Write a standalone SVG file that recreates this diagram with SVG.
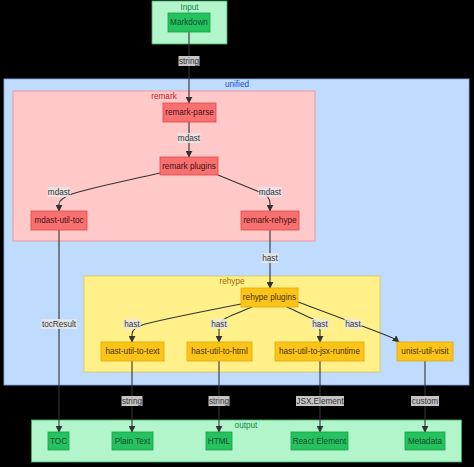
<svg xmlns="http://www.w3.org/2000/svg" width="474" height="467" viewBox="0 0 474 467">
<defs>
<marker id="arr" viewBox="0 0 10 10" refX="9" refY="5" markerWidth="7" markerHeight="7" orient="auto" markerUnits="userSpaceOnUse">
<path d="M0,0 L10,5 L0,10 z" fill="#333"/>
</marker>
<style>
text{font-family:"Liberation Sans",Arial,sans-serif;font-size:8.2px;text-anchor:middle;dominant-baseline:central}
.cg{fill:#b2f5cb;stroke:#3fb26a;stroke-width:0.8}
.cu{fill:#bfdbfe;stroke:#7fb0ee;stroke-width:0.8}
.cr{fill:#ffc9c9;stroke:#ee8b8b;stroke-width:0.8}
.cy{fill:#fff08a;stroke:#e2c44a;stroke-width:0.8}
.ng{fill:#26c25f;stroke:#16a04a;stroke-width:0.8}
.nr{fill:#f87171;stroke:#e04848;stroke-width:0.8}
.ny{fill:#fcc419;stroke:#e0a800;stroke-width:0.8}
.tg{fill:#0f4d2a}
.tr{fill:#4a1010}
.ty{fill:#4a3000}
.lg{fill:#17843f}
.lu{fill:#1d4ed8}
.lr{fill:#c02626}
.ly{fill:#a66a00}
.e{fill:none;stroke:#333;stroke-width:1.1;marker-end:url(#arr)}
.lb{fill:#e8e8e8;fill-opacity:0.85}
.lt{fill:#333}
</style>
</defs>
<rect x="0" y="0" width="474" height="467" fill="#000"/>

<g id="cluster-input">
<rect class="cg" x="152" y="1" width="75" height="43"/>
<text class="lg" x="189.5" y="7">Input</text>
</g>
<g id="cluster-unified">
<rect class="cu" x="4" y="79" width="465" height="306"/>
<text class="lu" x="237" y="84">unified</text>
</g>
<g id="cluster-remark">
<rect class="cr" x="13" y="91" width="302" height="150"/>
<text class="lr" x="164" y="96">remark</text>
</g>
<g id="cluster-rehype">
<rect class="cy" x="84" y="276" width="296" height="96"/>
<text class="ly" x="232" y="281">rehype</text>
</g>
<g id="cluster-output">
<rect class="cg" x="31.5" y="420" width="430" height="42"/>
<text class="lg" x="246" y="425">output</text>
</g>

<g id="connectors">
<path class="e" d="M189,32 L189,103"/>
<path class="e" d="M189,122 L189,157"/>
<path class="e" d="M160,173 C120,182 85,189 72,194 Q59,199 59,204 L59,211"/>
<path class="e" d="M218,175 C235,182 250,188 262,193 Q270,197 270,203 L270,211"/>
<path class="e" d="M270,230 L270,288"/>
<path class="e" d="M59,230 L59,432"/>
<path class="e" d="M241,304 C200,312 165,319 145,324 Q132,328 132,334 L132,342"/>
<path class="e" d="M252,307 C240,312 232,315 226,318 Q219,322 219,330 L219,342"/>
<path class="e" d="M287,307 C298,312 306,316 313,319 Q320,323 320,331 L320,342"/>
<path class="e" d="M298,302 C330,314 365,327 388,336 Q394,338 399,342"/>
<path class="e" d="M132,361 L132,432"/>
<path class="e" d="M219,361 L219,432"/>
<path class="e" d="M320,361 L320,432"/>
<path class="e" d="M425,361 L425,432"/>

<g id="edge-labels">
<rect class="lb" x="178.5" y="56" width="21" height="10"/><text class="lt" x="189" y="61">string</text>
<rect class="lb" x="177.5" y="133" width="23" height="10"/><text class="lt" x="189" y="138">mdast</text>
<rect class="lb" x="47.5" y="187" width="23" height="10"/><text class="lt" x="59" y="192">mdast</text>
<rect class="lb" x="258.5" y="187" width="23" height="10"/><text class="lt" x="270" y="192">mdast</text>
<rect class="lb" x="261.5" y="253" width="17" height="10"/><text class="lt" x="270" y="258">hast</text>
<rect class="lb" x="41" y="319" width="36" height="10"/><text class="lt" x="59" y="324">tocResult</text>
<rect class="lb" x="123.5" y="319" width="17" height="10"/><text class="lt" x="132" y="324">hast</text>
<rect class="lb" x="210.5" y="319" width="17" height="10"/><text class="lt" x="219" y="324">hast</text>
<rect class="lb" x="311.5" y="319" width="17" height="10"/><text class="lt" x="320" y="324">hast</text>
<rect class="lb" x="344.5" y="319" width="17" height="10"/><text class="lt" x="353" y="324">hast</text>
<rect class="lb" x="121.5" y="396" width="21" height="10"/><text class="lt" x="132" y="401">string</text>
<rect class="lb" x="208.5" y="396" width="21" height="10"/><text class="lt" x="219" y="401">string</text>
<rect class="lb" x="296" y="396" width="48" height="10"/><text class="lt" x="320" y="401">JSX.Element</text>
<rect class="lb" x="411" y="396" width="28" height="10"/><text class="lt" x="425" y="401">custom</text>
</g>
</g>

<g id="node-markdown"><rect class="ng" x="168" y="13" width="42" height="19"/><text class="tg" x="189" y="22.5">Markdown</text></g>
<g id="node-remark-parse"><rect class="nr" x="163" y="103" width="53" height="19"/><text class="tr" x="189.5" y="112.5">remark-parse</text></g>
<g id="node-remark-plugins"><rect class="nr" x="160" y="157" width="58" height="18"/><text class="tr" x="189" y="166">remark plugins</text></g>
<g id="node-mdast-util-toc"><rect class="nr" x="31" y="211" width="56" height="19"/><text class="tr" x="59" y="220.5">mdast-util-toc</text></g>
<g id="node-remark-rehype"><rect class="nr" x="241" y="211" width="58" height="19"/><text class="tr" x="270" y="220.5">remark-rehype</text></g>
<g id="node-rehype-plugins"><rect class="ny" x="241" y="288" width="57" height="19"/><text class="ty" x="269.5" y="297.5">rehype plugins</text></g>
<g id="node-hast-util-to-text"><rect class="ny" x="101" y="342" width="63" height="19"/><text class="ty" x="132.5" y="351.5">hast-util-to-text</text></g>
<g id="node-hast-util-to-html"><rect class="ny" x="187" y="342" width="65" height="19"/><text class="ty" x="219.5" y="351.5">hast-util-to-html</text></g>
<g id="node-hast-util-to-jsx-runtime"><rect class="ny" x="275" y="342" width="89" height="19"/><text class="ty" x="319.5" y="351.5">hast-util-to-jsx-runtime</text></g>
<g id="node-unist-util-visit"><rect class="ny" x="397" y="342" width="56" height="19"/><text class="ty" x="425" y="351.5">unist-util-visit</text></g>
<g id="node-toc"><rect class="ng" x="48" y="432" width="21" height="18"/><text class="tg" x="58.5" y="441">TOC</text></g>
<g id="node-plain-text"><rect class="ng" x="112" y="432" width="41" height="18"/><text class="tg" x="132.5" y="441">Plain Text</text></g>
<g id="node-html"><rect class="ng" x="206" y="432" width="26" height="18"/><text class="tg" x="219" y="441">HTML</text></g>
<g id="node-react-element"><rect class="ng" x="291" y="432" width="57" height="18"/><text class="tg" x="319.5" y="441">React Element</text></g>
<g id="node-metadata"><rect class="ng" x="405" y="432" width="40" height="18"/><text class="tg" x="425" y="441">Metadata</text></g>
</svg>
